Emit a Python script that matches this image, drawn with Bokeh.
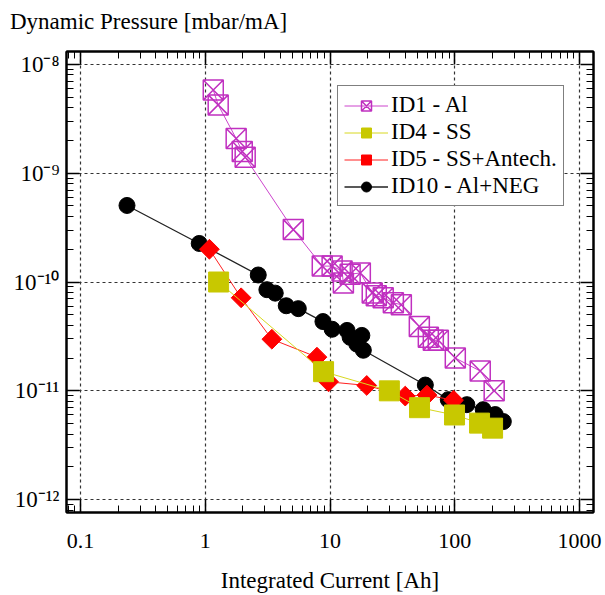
import numpy as np
from bokeh.plotting import figure
from bokeh.layouts import column
from bokeh.models import Range1d, FixedTicker, LogAxis, Legend, LegendItem, Div
from bokeh.embed import file_html
from bokeh.resources import INLINE

# ---------------- data ----------------
id1_x = [1.16, 1.27, 1.77, 1.98, 2.09, 5.08, 8.67, 10.4, 12.5, 12.8, 14.5, 17.5,
         21.8, 23.5, 26.7, 32.2, 37.3, 52.0, 61.4, 67.3, 73.8, 101, 160, 207]
id1_y = [5.8e-9, 4.24e-9, 2.08e-9, 1.58e-9, 1.40e-9, 3.03e-10, 1.40e-10, 1.40e-10,
         1.26e-10, 9.8e-11, 1.18e-10, 1.21e-10, 7.94e-11, 7.46e-11, 7.16e-11, 6.44e-11,
         6.18e-11, 3.90e-11, 3.10e-11, 2.91e-11, 2.91e-11, 2.0e-11, 1.52e-11, 1.0e-11]

id4_x = [1.28, 8.88, 29.9, 52.2, 99.6, 158, 201]
id4_y = [1.0e-10, 1.5e-11, 1.0e-11, 7.0e-12, 6.0e-12, 5.05e-12, 4.54e-12]

id5_x = [1.08, 1.94, 3.42, 7.86, 9.74, 19.7, 40.1, 59.9, 97.8]
id5_y = [2.0e-10, 7.16e-11, 2.98e-11, 2.04e-11, 1.21e-11, 1.12e-11, 8.95e-12, 9.14e-12, 8.2e-12]

id10_x = [0.236, 0.895, 2.66, 3.12, 3.64, 4.46, 5.57, 8.78, 10.4, 13.7, 14.5, 16.4,
          18.0, 18.5, 58.1, 88.7, 125, 169, 211, 245]
id10_y = [5.05e-10, 2.26e-10, 1.16e-10, 8.5e-11, 7.9e-11, 6.05e-11, 5.69e-11, 4.33e-11,
          3.68e-11, 3.59e-11, 3.10e-11, 2.69e-11, 3.23e-11, 2.36e-11, 1.13e-11, 8.3e-12,
          7.46e-12, 6.71e-12, 6.05e-12, 5.22e-12]

series_names = ["ID1 - Al", "ID4 - SS", "ID5 - SS+Antech.", "ID10 - Al+NEG"]

x_ticks = [0.1, 1.0, 10.0, 100.0, 1000.0]
x_tick_labels = ["0.1", "1", "10", "100", "1000"]
y_ticks = [1e-12, 1e-11, 1e-10, 1e-9, 1e-8]
y_tick_labels = ["10\u207b\u00b9\u00b2", "10\u207b\u00b9\u00b9", "10\u207b\u00b9\u2070",
                 "10\u207b\u2079", "10\u207b\u2078"]

x_title = "Integrated Current [Ah]"
y_title = "Dynamic Pressure [mbar/mA]"

# ---------------- figure ----------------
FONT = "Liberation Serif"
HEAD_H = 49

head = Div(text=y_title, width=605, height=HEAD_H, margin=0,
           styles={"font-family": "'Liberation Serif'", "font-size": "23px",
                   "color": "black", "padding-left": "10px", "padding-top": "8px",
                   "line-height": "27px", "box-sizing": "border-box",
                   "white-space": "nowrap"})

p = figure(width=605, height=595 - HEAD_H, x_axis_type="log", y_axis_type="log",
           x_range=Range1d(10 ** -1.112, 10 ** 3.112),
           y_range=Range1d(10 ** -12.118, 10 ** -7.882),
           output_backend="svg", toolbar_location=None, margin=0,
           min_border_left=66, min_border_right=12, min_border_top=2, min_border_bottom=78)
p.background_fill_color = "white"
p.border_fill_color = "white"
p.outline_line_color = "black"
p.outline_line_width = 2

x_minor = [m * 10.0 ** e for e in range(-2, 4) for m in range(2, 10)]
y_minor = [m * 10.0 ** e for e in range(-13, -7) for m in range(2, 10)]
xticker = FixedTicker(ticks=x_ticks, minor_ticks=x_minor)
yticker = FixedTicker(ticks=y_ticks, minor_ticks=y_minor)


def style_axis(ax, ticker):
    ax.ticker = ticker
    ax.major_tick_in = 13
    ax.major_tick_out = 0
    ax.minor_tick_in = 7
    ax.minor_tick_out = 0
    ax.major_tick_line_color = "black"
    ax.major_tick_line_width = 1.5
    ax.minor_tick_line_color = "black"
    ax.minor_tick_line_width = 1
    ax.axis_line_color = "black"
    ax.axis_line_width = 2
    ax.major_label_text_font = FONT
    ax.major_label_text_color = "black"


style_axis(p.xaxis[0], xticker)
style_axis(p.yaxis[0], yticker)
p.xaxis[0].major_label_overrides = dict(zip(x_ticks, x_tick_labels))
p.yaxis[0].major_label_overrides = dict(zip(y_ticks, y_tick_labels))
p.xaxis[0].major_label_text_font_size = "22px"
p.yaxis[0].major_label_text_font_size = "23px"
p.xaxis[0].major_label_standoff = 21
p.yaxis[0].major_label_standoff = 7
p.xaxis[0].axis_label = x_title
p.xaxis[0].axis_label_text_font = FONT
p.xaxis[0].axis_label_text_font_size = "23px"
p.xaxis[0].axis_label_text_font_style = "normal"
p.xaxis[0].axis_label_text_color = "black"
p.xaxis[0].axis_label_standoff = 17

for side, ticker in (("above", xticker), ("right", yticker)):
    ax = LogAxis()
    style_axis(ax, ticker)
    ax.major_label_text_font_size = "1px"
    ax.major_label_text_alpha = 0
    ax.major_label_standoff = 0
    p.add_layout(ax, side)

for g, tk in ((p.xgrid[0], xticker), (p.ygrid[0], yticker)):
    g.ticker = tk
    g.grid_line_color = "#333333"
    g.grid_line_dash = "3 3"
    g.grid_line_width = 1.2

# ---------------- series (bottom to top) ----------------
l10 = p.line(id10_x, id10_y, line_color="#222222", line_width=1.3)
s10 = p.scatter(id10_x, id10_y, marker="circle", size=16, fill_color="black", line_color="black")

l5 = p.line(id5_x, id5_y, line_color="#ff2020", line_width=1)
s5 = p.scatter(id5_x, id5_y, marker="square", angle=np.pi / 4, size=14,
               fill_color="#ff0000", line_color="#ff0000")

l4 = p.line(id4_x, id4_y, line_color="#d8d820", line_width=1)
s4 = p.scatter(id4_x, id4_y, marker="square", size=20, fill_color="#c8c800", line_color="#c8c800")

l1 = p.line(id1_x, id1_y, line_color="#cc44cc", line_width=1)
s1 = p.scatter(id1_x, id1_y, marker="square_x", size=20, fill_color=None,
               line_color="#c030c0", line_width=1.5)

legend = Legend(items=[
    LegendItem(label=series_names[0], renderers=[l1, s1]),
    LegendItem(label=series_names[1], renderers=[l4, s4]),
    LegendItem(label=series_names[2], renderers=[l5, s5]),
    LegendItem(label=series_names[3], renderers=[l10, s10]),
], location=(271, 306))
legend.label_text_font = FONT
legend.label_text_font_size = "23px"
legend.label_text_color = "black"
legend.glyph_width = 44
legend.glyph_height = 25
legend.label_height = 25
legend.spacing = 1
legend.padding = 6
legend.label_standoff = 3
legend.margin = 0
legend.border_line_color = "black"
legend.border_line_width = 1.5
legend.background_fill_color = "white"
legend.background_fill_alpha = 1
p.add_layout(legend, "center")

layout = column(head, p, spacing=0, margin=0)
open("out.html", "w").write(file_html(layout, INLINE))
